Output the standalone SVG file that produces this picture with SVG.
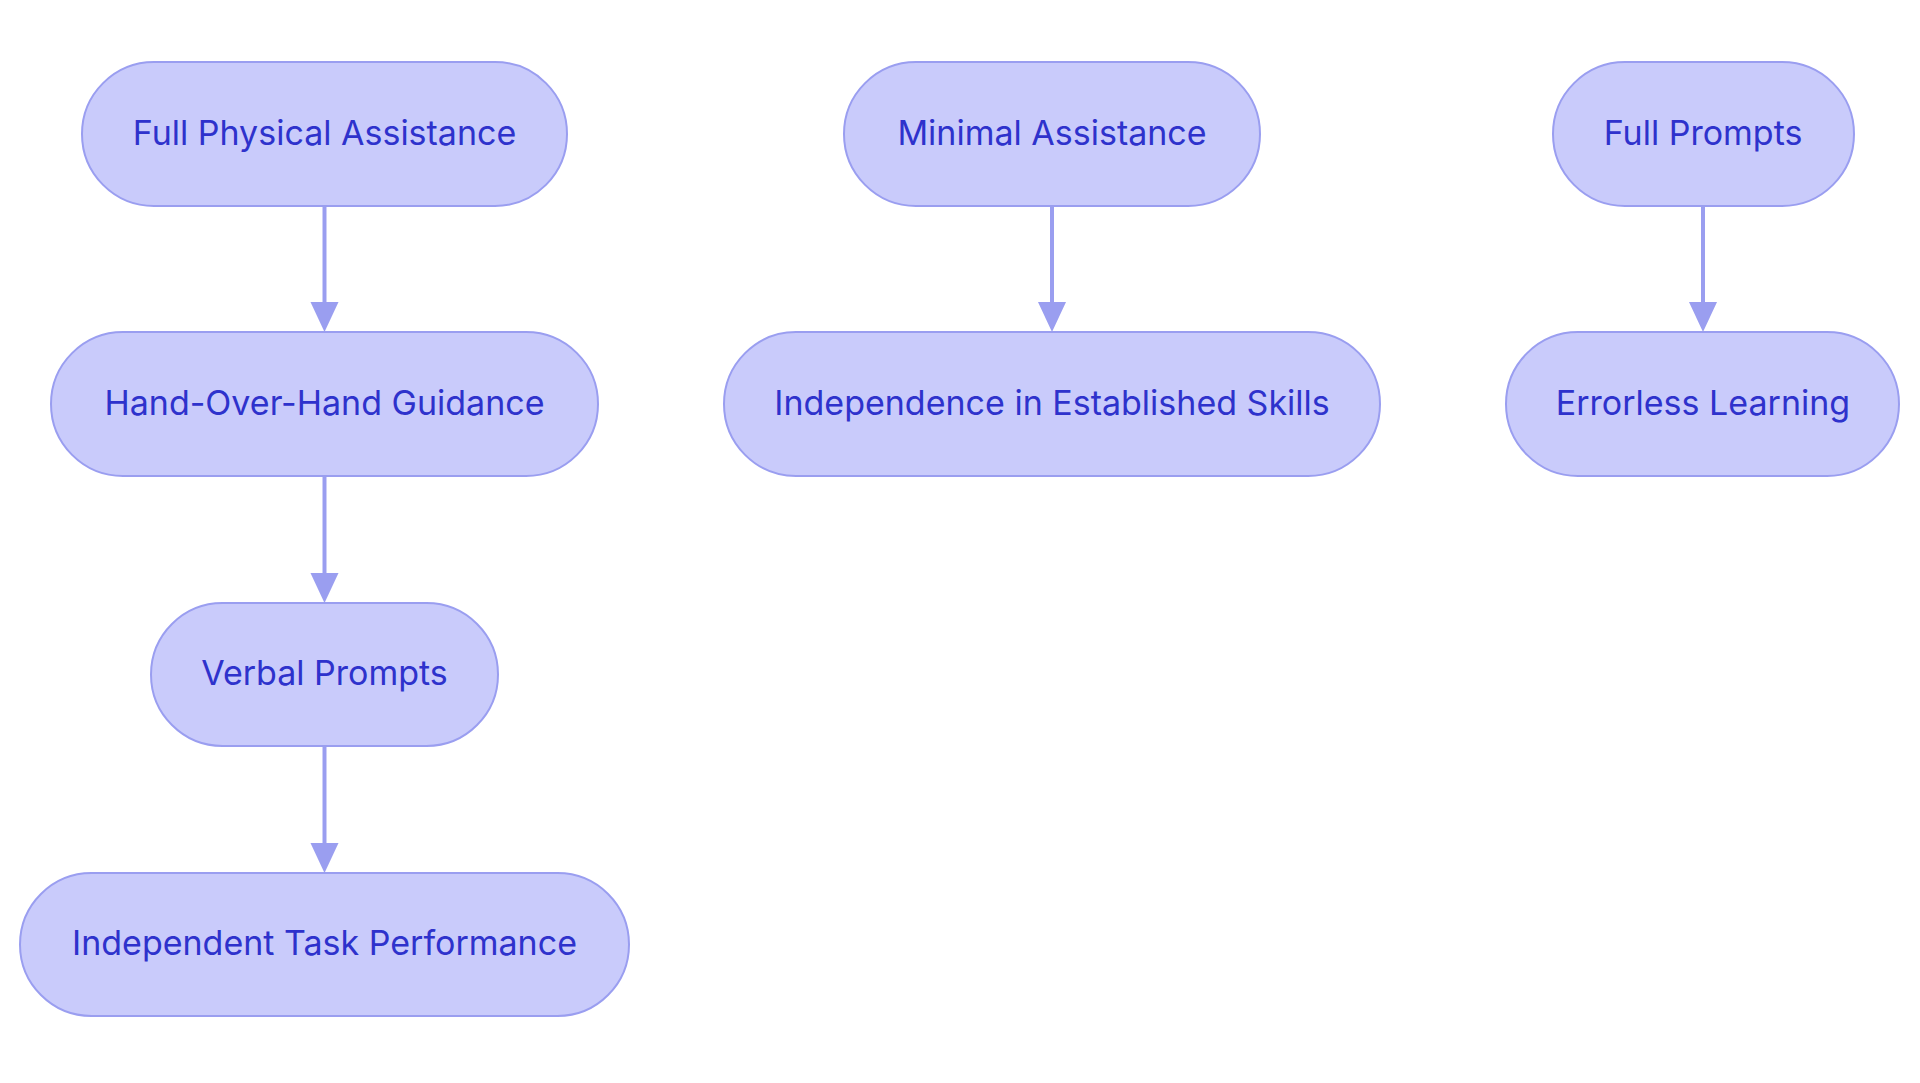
<svg xmlns="http://www.w3.org/2000/svg" width="1920" height="1083" viewBox="0 0 1920 1083">
<defs>
<style>
.node rect{fill:#C9CBFB;stroke:#9A9EF0;stroke-width:2}
.node text{font-family:Inter,"Noto Sans","Liberation Sans",sans-serif;font-size:34px;fill:#2E32CC;text-anchor:middle;dominant-baseline:central}
.edge{stroke:#9A9EF0;stroke-width:4;fill:none}
.head{fill:#9A9EF0}
</style>
</defs>
<rect width="1920" height="1083" fill="#ffffff"/>
<g id="connectors">
<path class="edge" d="M324.5,206 L324.5,308"/>
<path class="head" d="M310.5,302 L338.5,302 L324.5,332 Z"/>
<path class="edge" d="M324.5,476 L324.5,579"/>
<path class="head" d="M310.5,573 L338.5,573 L324.5,603 Z"/>
<path class="edge" d="M324.5,746 L324.5,849"/>
<path class="head" d="M310.5,843 L338.5,843 L324.5,873 Z"/>
<path class="edge" d="M1052,206 L1052,308"/>
<path class="head" d="M1038,302 L1066,302 L1052,332 Z"/>
<path class="edge" d="M1703,206 L1703,308"/>
<path class="head" d="M1689,302 L1717,302 L1703,332 Z"/>
</g>
<g id="n1" class="node"><rect x="82" y="62" width="485" height="144" rx="72" ry="72"/><text x="324.5" y="132">Full Physical Assistance</text></g>
<g id="n2" class="node"><rect x="51" y="332" width="547" height="144" rx="72" ry="72"/><text x="324.5" y="402">Hand-Over-Hand Guidance</text></g>
<g id="n3" class="node"><rect x="151" y="603" width="347" height="143" rx="71.5" ry="71.5"/><text x="324.5" y="672.5">Verbal Prompts</text></g>
<g id="n4" class="node"><rect x="20" y="873" width="609" height="143" rx="71.5" ry="71.5"/><text x="324.5" y="942.5">Independent Task Performance</text></g>
<g id="n5" class="node"><rect x="844" y="62" width="416" height="144" rx="72" ry="72"/><text x="1052" y="132">Minimal Assistance</text></g>
<g id="n6" class="node"><rect x="724" y="332" width="656" height="144" rx="72" ry="72"/><text x="1052" y="402">Independence in Established Skills</text></g>
<g id="n7" class="node"><rect x="1553" y="62" width="301" height="144" rx="72" ry="72"/><text x="1703" y="132">Full Prompts</text></g>
<g id="n8" class="node"><rect x="1506" y="332" width="393" height="144" rx="72" ry="72"/><text x="1703" y="402">Errorless Learning</text></g>
</svg>
